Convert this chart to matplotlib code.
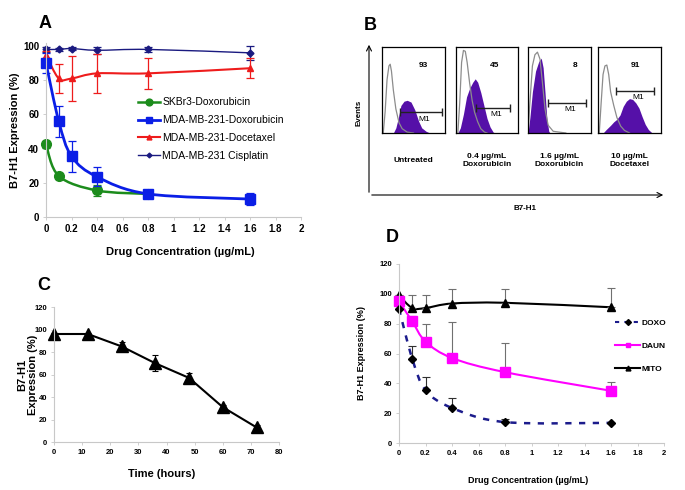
import matplotlib
matplotlib.use('Agg')
import matplotlib.pyplot as plt
import numpy as np
from matplotlib.path import Path
from matplotlib.patches import PathPatch, FancyArrowPatch
from matplotlib.lines import Line2D

plt.rcParams['font.family'] = ['Liberation Sans', 'DejaVu Sans']
plt.rcParams['font.weight'] = 'bold'
plt.rcParams['axes.labelweight'] = 'bold'

# ---------------- data ----------------
# panel A
conc_a = [0, 0.1, 0.2, 0.4, 0.8, 1.6]
skbr3_x = [0, 0.1, 0.4, 0.8]
skbr3_dox = [42.5, 24, 15.5, 13.5]
skbr3_err = [2, 2, 3, 1.5]
mda_dox = [90, 56, 35.5, 23.5, 13.5, 10.5]
mda_dox_err = [6, 9, 9, 5.5, 2, 3.5]
mda_doc = [95, 81, 81, 84, 84, 87]
mda_doc_err = [2, 8.5, 13, 11.5, 9, 6]
mda_cis = [98, 98, 98.5, 97.5, 98, 96]
mda_cis_err = [1.5, 1, 1, 2, 1.5, 4]
conc_ticks = [0, 0.2, 0.4, 0.6, 0.8, 1, 1.2, 1.4, 1.6, 1.8, 2]
conc_labels = ['0', '0.2', '0.4', '0.6', '0.8', '1', '1.2', '1.4', '1.6', '1.8', '2']

# panel B (flow histograms, box-relative coordinates)
b_titles = ['Untreated', '0.4 \u00b5g/mL\nDoxorubicin', '1.6 \u00b5g/mL\nDoxorubicin', '10 \u00b5g/mL\nDocetaxel']
b_pct = ['93', '45', '8', '91']
grey_x = [
    [0.02, 0.05, 0.08, 0.11, 0.13, 0.15, 0.18, 0.22, 0.27, 0.32, 0.40, 0.50],
    [0.03, 0.06, 0.09, 0.12, 0.15, 0.18, 0.22, 0.26, 0.30, 0.35, 0.40, 0.46, 0.50],
    [0.00, 0.03, 0.07, 0.11, 0.15, 0.19, 0.23, 0.27, 0.32, 0.40, 0.50, 0.60],
    [0.02, 0.05, 0.08, 0.11, 0.14, 0.17, 0.20, 0.25, 0.30, 0.36, 0.42, 0.50],
]
grey_y = [
    [0.0, 0.25, 0.62, 0.78, 0.80, 0.72, 0.50, 0.28, 0.12, 0.05, 0.01, 0.0],
    [0.0, 0.35, 0.82, 0.96, 0.95, 0.82, 0.58, 0.38, 0.24, 0.13, 0.05, 0.01, 0.0],
    [0.0, 0.35, 0.78, 0.91, 0.94, 0.86, 0.58, 0.28, 0.09, 0.02, 0.01, 0.0],
    [0.0, 0.35, 0.68, 0.78, 0.79, 0.68, 0.48, 0.32, 0.18, 0.08, 0.03, 0.0],
]
purple_x = [
    [0.18, 0.22, 0.26, 0.30, 0.35, 0.40, 0.46, 0.52, 0.58, 0.63, 0.70, 0.76],
    [0.03, 0.07, 0.12, 0.17, 0.22, 0.27, 0.31, 0.35, 0.40, 0.45, 0.50, 0.55, 0.60, 0.63],
    [0.00, 0.03, 0.07, 0.12, 0.17, 0.21, 0.24, 0.27, 0.30, 0.33, 0.35],
    [0.08, 0.13, 0.20, 0.25, 0.30, 0.35, 0.40, 0.45, 0.50, 0.55, 0.60, 0.65, 0.70, 0.75, 0.80, 0.86],
]
purple_y = [
    [0.0, 0.06, 0.18, 0.32, 0.37, 0.38, 0.36, 0.27, 0.14, 0.06, 0.02, 0.0],
    [0.0, 0.06, 0.22, 0.42, 0.52, 0.59, 0.63, 0.59, 0.47, 0.32, 0.17, 0.07, 0.01, 0.0],
    [0.0, 0.18, 0.48, 0.72, 0.83, 0.87, 0.76, 0.47, 0.16, 0.02, 0.0],
    [0.0, 0.04, 0.09, 0.13, 0.16, 0.21, 0.31, 0.37, 0.40, 0.39, 0.35, 0.29, 0.19, 0.10, 0.04, 0.0],
]
m1_left = [0.29, 0.33, 0.32, 0.29]
m1_right = [0.95, 0.87, 0.92, 0.89]
m1_y = [0.24, 0.29, 0.35, 0.49]

# panel C
hours = [0, 12, 24, 36, 48, 60, 72]
expr_c = [96, 96, 85, 70, 57, 31, 13]
expr_c_err = [1, 1, 4, 7, 4, 2, 2]

# panel D
conc_d = [0, 0.1, 0.2, 0.4, 0.8, 1.6]
doxo = [90, 56.5, 35.5, 23.5, 14, 13.5]
doxo_err = [0, 8.5, 9, 6.5, 2, 0]
daun = [95, 81.5, 68, 57, 47.5, 35]
daun_err = [0, 3.5, 12, 24, 19.5, 6]
mito = [99, 90.5, 90.5, 93.5, 94, 91]
mito_err = [0, 8.5, 8.5, 9.5, 9, 13]

W, H = 685, 490


def box(l, t, r, b):
    return [l / W, 1 - b / H, (r - l) / W, (b - t) / H]


def fpx(x, y):
    return (x / W, 1 - y / H)


def smooth(ax, x, y, **kw):
    x = np.asarray(x, float)
    y = np.asarray(y, float)
    n = len(x)
    verts = [(x[0], y[0])]
    codes = [Path.MOVETO]
    for i in range(n - 1):
        i0 = max(i - 1, 0)
        i3 = min(i + 2, n - 1)
        c1 = (x[i] + (x[i + 1] - x[i0]) / 6, y[i] + (y[i + 1] - y[i0]) / 6)
        c2 = (x[i + 1] - (x[i3] - x[i]) / 6, y[i + 1] - (y[i3] - y[i]) / 6)
        verts += [c1, c2, (x[i + 1], y[i + 1])]
        codes += [Path.CURVE4] * 3
    ax.add_patch(PathPatch(Path(verts, codes), fill=False, **kw))


def style_axes(ax, fs):
    for s in ['top', 'right']:
        ax.spines[s].set_visible(False)
    for s in ['left', 'bottom']:
        ax.spines[s].set_color('#c8c8c8')
        ax.spines[s].set_linewidth(0.8)
    ax.tick_params(length=2, width=0.6, color='#c8c8c8', pad=3, labelsize=fs)


def unclip(ax):
    for a in ax.lines + ax.collections + ax.patches:
        a.set_clip_on(False)


fig = plt.figure(figsize=(6.85, 4.9), dpi=100)

# ---------------- panel A ----------------
ya0, ya_scale = 217, 1.71
axA = fig.add_axes(box(46, ya0 - 102 * ya_scale, 301, ya0))
axA.set_xlim(0, 2)
axA.set_ylim(0, 102)
style_axes(axA, 7)
axA.set_xticks(conc_ticks)
axA.set_xticklabels(conc_labels)
axA.set_yticks([0, 20, 40, 60, 80, 100])

series_a = [
    (conc_a, mda_cis, mda_cis_err, '#1a1a80', 'D', 3.5, 1.0, 'MDA-MB-231 Cisplatin'),
    (conc_a, mda_doc, mda_doc_err, '#ee1c1c', '^', 5, 1.5, 'MDA-MB-231-Docetaxel'),
    (skbr3_x, skbr3_dox, skbr3_err, '#1c8c1c', 'o', 7, 1.8, 'SKBr3-Doxorubicin'),
    (conc_a, mda_dox, mda_dox_err, '#0a1ee6', 's', 6.5, 2.0, 'MDA-MB-231-Doxorubicin'),
]
handles = {}
for x, y, e, c, m, ms, lw, lab in series_a:
    axA.errorbar(x, y, yerr=e, fmt='none', ecolor=c, elinewidth=0.9, capsize=3, capthick=0.9)
    smooth(axA, x, y, edgecolor=c, linewidth=lw)
    axA.plot(x, y, linestyle='none', marker=m, color=c, markersize=ms)
    handles[lab] = Line2D([], [], color=c, marker=m, markersize=ms * 0.7, linewidth=lw)
unclip(axA)
order = ['SKBr3-Doxorubicin', 'MDA-MB-231-Doxorubicin', 'MDA-MB-231-Docetaxel', 'MDA-MB-231 Cisplatin']
axA.legend([handles[k] for k in order], order, loc='upper left', bbox_to_anchor=(0.341, 0.715),
           frameon=False, borderpad=0, handlelength=2.1, handletextpad=0.2, labelspacing=0.75,
           prop={'size': 7.5, 'weight': 'normal'})
axA.set_ylabel('B7-H1 Expression (%)', fontsize=8, va='center')
axA.yaxis.set_label_coords(-0.122, 0.5)
axA.set_xlabel('Drug Concentration (\u00b5g/mL)', fontsize=8, va='center')
axA.xaxis.set_label_coords(0.525, -0.20)
fig.text(*fpx(45, 24), 'A', fontsize=13, ha='center', va='center')

# ---------------- panel B ----------------
fig.text(*fpx(370, 25), 'B', fontsize=13, ha='center', va='center')
fig.add_artist(FancyArrowPatch(fpx(369, 195), fpx(369, 42), transform=fig.transFigure,
                               arrowstyle='->', mutation_scale=9, linewidth=0.8, color='black'))
fig.add_artist(FancyArrowPatch(fpx(369, 195), fpx(666, 195), transform=fig.transFigure,
                               arrowstyle='->', mutation_scale=9, linewidth=0.8, color='black'))
fig.text(*fpx(359, 113), 'Events', fontsize=5.8, rotation=90, ha='center', va='center')
fig.text(*fpx(525, 209), 'B7-H1', fontsize=5.8, ha='center', va='center')

box_lr = [(382, 445), (456, 518), (528, 591), (598, 661)]
for i, (l, r) in enumerate(box_lr):
    ax = fig.add_axes(box(l, 47, r, 133))
    ax.set_xlim(0, 1)
    ax.set_ylim(0, 1)
    ax.set_xticks([])
    ax.set_yticks([])
    for s in ax.spines.values():
        s.set_linewidth(0.9)
    ax.fill_between(purple_x[i], purple_y[i], color='#5510a8', linewidth=0)
    ax.plot(grey_x[i], grey_y[i], color='#8c8c8c', linewidth=0.9)
    mid = (m1_left[i] + m1_right[i]) / 2
    ax.errorbar([mid], [m1_y[i]], xerr=[(m1_right[i] - m1_left[i]) / 2], fmt='none',
                ecolor='#222222', elinewidth=1.0, capsize=3, capthick=1.0)
    ax.text(mid + 0.05, m1_y[i] - 0.08, 'M1', fontsize=6, fontweight='normal', ha='center', va='center')
    ax.text([0.65, 0.63, 0.75, 0.60][i], 0.78, b_pct[i], fontsize=6, ha='center', va='center')
    fig.text(*fpx((l + r) / 2, 160), b_titles[i], fontsize=6, ha='center', va='center',
             linespacing=1.2)

# ---------------- panel C ----------------
axC = fig.add_axes(box(54, 307, 279, 442))
axC.set_xlim(0, 80)
axC.set_ylim(0, 120)
style_axes(axC, 5.5)
axC.set_xticks(range(0, 81, 10))
axC.set_yticks(range(0, 121, 20))
axC.errorbar(hours, expr_c, yerr=expr_c_err, color='black', marker='^', markersize=8,
             linewidth=1.5, elinewidth=0.8, capsize=2, capthick=0.8)
unclip(axC)
axC.set_ylabel('B7-H1\nExpression (%)', fontsize=8, va='center', linespacing=1.1)
axC.yaxis.set_label_coords(-0.118, 0.5)
axC.set_xlabel('Time (hours)', fontsize=8, va='center')
axC.xaxis.set_label_coords(0.48, -0.237)
fig.text(*fpx(44, 286), 'C', fontsize=13, ha='center', va='center')

# ---------------- panel D ----------------
axD = fig.add_axes(box(399, 264, 664, 443))
axD.set_xlim(0, 2)
axD.set_ylim(0, 120)
style_axes(axD, 5.5)
axD.set_xticks(conc_ticks)
axD.set_xticklabels(conc_labels)
axD.set_yticks(range(0, 121, 20))

axD.errorbar(conc_d, mito, yerr=[np.zeros(len(mito)), mito_err], fmt='none', ecolor='#707070',
             elinewidth=0.8, capsize=3, capthick=0.8)
axD.errorbar(conc_d, daun, yerr=[np.zeros(len(daun)), daun_err], fmt='none', ecolor='#707070',
             elinewidth=0.8, capsize=3, capthick=0.8)
axD.errorbar(conc_d, doxo, yerr=[np.zeros(len(doxo)), doxo_err], fmt='none', ecolor='#303030',
             elinewidth=0.8, capsize=3, capthick=0.8)
smooth(axD, conc_d, mito, edgecolor='black', linewidth=1.5)
smooth(axD, conc_d, daun, edgecolor='#ff00ff', linewidth=1.5)
smooth(axD, conc_d, doxo, edgecolor='#1c1c8c', linewidth=1.8, linestyle=(0, (2.5, 3)))
axD.plot(conc_d, mito, linestyle='none', marker='^', color='black', markersize=6)
axD.plot(conc_d, daun, linestyle='none', marker='s', color='#ff00ff', markersize=6.5)
axD.plot(conc_d, doxo, linestyle='none', marker='D', color='black', markersize=4.5)
unclip(axD)

hD = [Line2D([], [], color='#1c1c8c', linestyle=(0, (2, 2.5)), linewidth=1.5, marker='D',
             markersize=3, markerfacecolor='black', markeredgecolor='black'),
      Line2D([], [], color='#ff00ff', linewidth=1.5, marker='s', markersize=3),
      Line2D([], [], color='black', linewidth=1.5, marker='^', markersize=3.5)]
axD.legend(hD, ['DOXO', 'DAUN', 'MITO'], loc='upper left', bbox_to_anchor=(0.80, 0.715),
           frameon=False, borderpad=0, handlelength=3.0, handletextpad=0.2, labelspacing=1.8,
           prop={'size': 6, 'weight': 'bold'})
axD.set_ylabel('B7-H1 Expression (%)', fontsize=6.5, va='center')
axD.yaxis.set_label_coords(-0.14, 0.5)
axD.set_xlabel('Drug Concentration (\u00b5g/mL)', fontsize=6.5, va='center')
axD.xaxis.set_label_coords(0.487, -0.207)
fig.text(*fpx(392, 237), 'D', fontsize=13, ha='center', va='center')

fig.savefig('out.png', dpi=100)
